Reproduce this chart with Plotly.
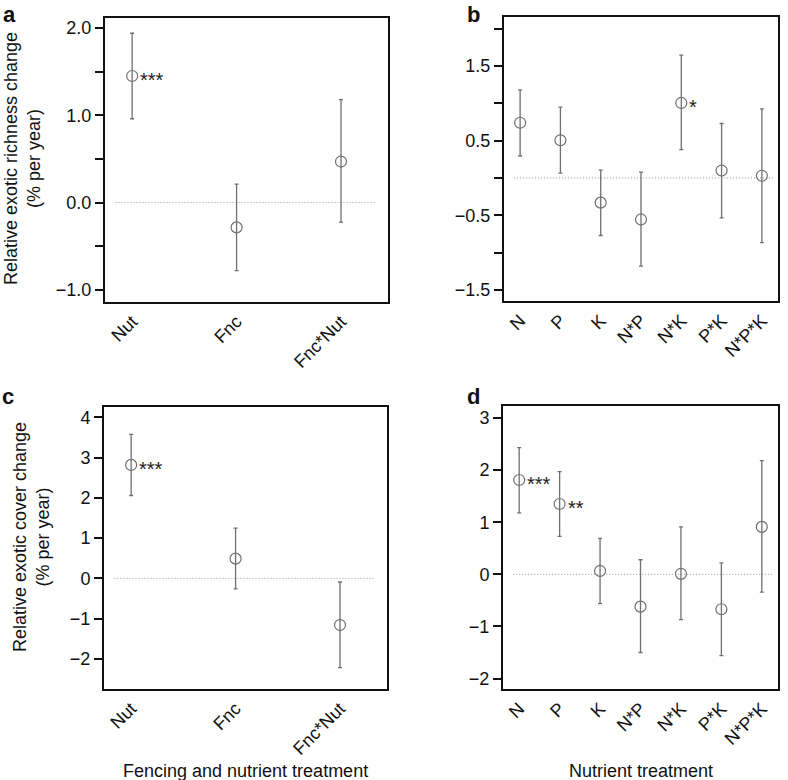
import plotly.graph_objects as go

# panel a: exotic richness, fencing x nutrients
fnc_cats = ["Nut", "Fnc", "Fnc*Nut"]
rich_fnc_est = [1.45, -0.285, 0.47]
rich_fnc_lo = [0.96, -0.78, -0.225]
rich_fnc_hi = [1.94, 0.21, 1.18]
rich_fnc_sig = ["***", "", ""]

# panel b: exotic richness, N/P/K
npk_cats = ["N", "P", "K", "N*P", "N*K", "P*K", "N*P*K"]
rich_npk_est = [0.74, 0.505, -0.33, -0.555, 1.005, 0.10, 0.03]
rich_npk_lo = [0.295, 0.065, -0.77, -1.18, 0.38, -0.535, -0.865]
rich_npk_hi = [1.18, 0.95, 0.105, 0.08, 1.645, 0.73, 0.925]
rich_npk_sig = ["", "", "", "", "*", "", ""]

# panel c: exotic cover, fencing x nutrients
cov_fnc_est = [2.82, 0.49, -1.16]
cov_fnc_lo = [2.06, -0.26, -2.22]
cov_fnc_hi = [3.58, 1.25, -0.09]
cov_fnc_sig = ["***", "", ""]

# panel d: exotic cover, N/P/K
cov_npk_est = [1.81, 1.35, 0.065, -0.62, 0.01, -0.67, 0.91]
cov_npk_lo = [1.18, 0.73, -0.56, -1.5, -0.87, -1.56, -0.34]
cov_npk_hi = [2.43, 1.97, 0.69, 0.28, 0.91, 0.22, 2.18]
cov_npk_sig = ["***", "**", "", "", "", "", ""]

W, H = 788, 780
FONT = "Liberation Sans, Arial, Helvetica, sans-serif"
GREY = "#707070"

# (cats, est, lo, hi, sig, box px [l, r, t, b], x range, y range, zero line x extent)
panels = [
    (fnc_cats, rich_fnc_est, rich_fnc_lo, rich_fnc_hi, rich_fnc_sig,
     [105, 388, 18, 302], [-0.26, 2.45], [-1.14, 2.115], [-0.16, 2.33]),
    (npk_cats, rich_npk_est, rich_npk_lo, rich_npk_hi, rich_npk_sig,
     [504, 778, 17, 301], [-0.4, 6.4], [-1.647, 2.156], [-0.15, 6.3]),
    (fnc_cats, cov_fnc_est, cov_fnc_lo, cov_fnc_hi, cov_fnc_sig,
     [104, 387, 407, 689], [-0.26, 2.45], [-2.75, 4.26], [-0.16, 2.33]),
    (npk_cats, cov_npk_est, cov_npk_lo, cov_npk_hi, cov_npk_sig,
     [503, 778, 406, 689], [-0.4, 6.4], [-2.2, 3.23], [-0.15, 6.3]),
]

# y tick setup per panel: (labelled ticks, minor ticks, format)
yticks = [
    ([-1.0, 0.0, 1.0, 2.0], [-0.5, 0.5, 1.5], ".1f"),
    ([-1.5, -0.5, 0.5, 1.5], [-1.0, 0.0, 1.0, 2.0], ".1f"),
    ([-2, -1, 0, 1, 2, 3, 4], [], "d"),
    ([-2, -1, 0, 1, 2, 3], [], "d"),
]

fig = go.Figure()
annotations = []
shapes = []

for i, (cats, est, lo, hi, sig, box, xr, yr, zx) in enumerate(panels):
    n = i + 1
    xa = "x" if n == 1 else f"x{n}"
    ya = "y" if n == 1 else f"y{n}"
    idx = list(range(len(cats)))
    fig.add_trace(go.Scatter(
        x=idx, y=est, xaxis=xa, yaxis=ya, mode="markers",
        marker=dict(symbol="circle-open", size=11, color=GREY, line=dict(width=1.2)),
        error_y=dict(type="data", symmetric=False,
                     array=[h - e for h, e in zip(hi, est)],
                     arrayminus=[e - l for e, l in zip(est, lo)],
                     color=GREY, thickness=1.3, width=2),
        showlegend=False, hoverinfo="skip",
    ))
    # dotted zero line
    shapes.append(dict(type="line", xref=xa, yref=ya, x0=zx[0], x1=zx[1], y0=0, y1=0,
                       line=dict(color="#999999", width=1, dash="1px,2px"), layer="below"))
    for xi, yi, s in zip(idx, est, sig):
        if s:
            annotations.append(dict(x=xi, y=yi, xref=xa, yref=ya, text=s, showarrow=False,
                                    xanchor="left", yanchor="middle", xshift=6, yshift=-4,
                                    font=dict(size=20, color="#222", family=FONT)))
    l, r, t, b = box
    major, minor, fmt = yticks[i]
    ax = dict(domain=[l / W, r / W], range=xr, tickvals=idx, ticktext=cats,
              tickangle=-45, ticks="", showline=True, mirror=True, linecolor="#111",
              linewidth=2, showgrid=False, zeroline=False,
              tickfont=dict(size=18, color="#111", family=FONT), anchor=ya)
    ay = dict(domain=[1 - b / H, 1 - t / H], range=yr, tickvals=major, tickformat=fmt,
              ticks="outside", ticklen=8, tickwidth=1.6, tickcolor="#111",
              showline=True, mirror=True, linecolor="#111", linewidth=2,
              showgrid=False, zeroline=False,
              tickfont=dict(size=18, color="#111", family=FONT), anchor=xa)
    if minor:
        ay["minor"] = dict(tickvals=minor, ticks="outside", ticklen=8, tickwidth=1.6,
                           tickcolor="#111", showgrid=False)
    fig.update_layout({("xaxis" if n == 1 else f"xaxis{n}"): ax,
                       ("yaxis" if n == 1 else f"yaxis{n}"): ay})

# panel letters (top of text box in px)
for letter, px, py in [("a", 1, 0), ("b", 465, 0), ("c", 0, 382), ("d", 465, 382)]:
    annotations.append(dict(x=px / W, y=1 - py / H, xref="paper", yref="paper", text=f"<b>{letter}</b>",
                            showarrow=False, xanchor="left", yanchor="top",
                            font=dict(size=22, color="#111", family=FONT)))

# y axis titles
annotations.append(dict(x=23 / W, y=1 - 159 / H, xref="paper", yref="paper",
                        text="Relative exotic richness change<br>(% per year)", textangle=-90,
                        showarrow=False, xanchor="center", yanchor="middle",
                        font=dict(size=18, color="#111", family=FONT)))
annotations.append(dict(x=31 / W, y=1 - 537 / H, xref="paper", yref="paper",
                        text="Relative exotic cover change<br>(% per year)", textangle=-90,
                        showarrow=False, xanchor="center", yanchor="middle",
                        font=dict(size=18, color="#111", family=FONT)))
# x axis titles
annotations.append(dict(x=245 / W, y=1 - 771 / H, xref="paper", yref="paper",
                        text="Fencing and nutrient treatment", showarrow=False,
                        xanchor="center", yanchor="middle",
                        font=dict(size=18, color="#111", family=FONT)))
annotations.append(dict(x=641 / W, y=1 - 771 / H, xref="paper", yref="paper",
                        text="Nutrient treatment", showarrow=False,
                        xanchor="center", yanchor="middle",
                        font=dict(size=18, color="#111", family=FONT)))

fig.update_layout(
    width=W, height=H, margin=dict(l=0, r=0, t=0, b=0),
    paper_bgcolor="white", plot_bgcolor="white",
    annotations=annotations, shapes=shapes,
    font=dict(family=FONT),
)

# drop the browser's default 8px body margin so the figure sits at the page corner
fig.write_html("out.html", config={"displayModeBar": False},
               post_script="document.body.style.margin='0';document.body.style.overflow='hidden';")
